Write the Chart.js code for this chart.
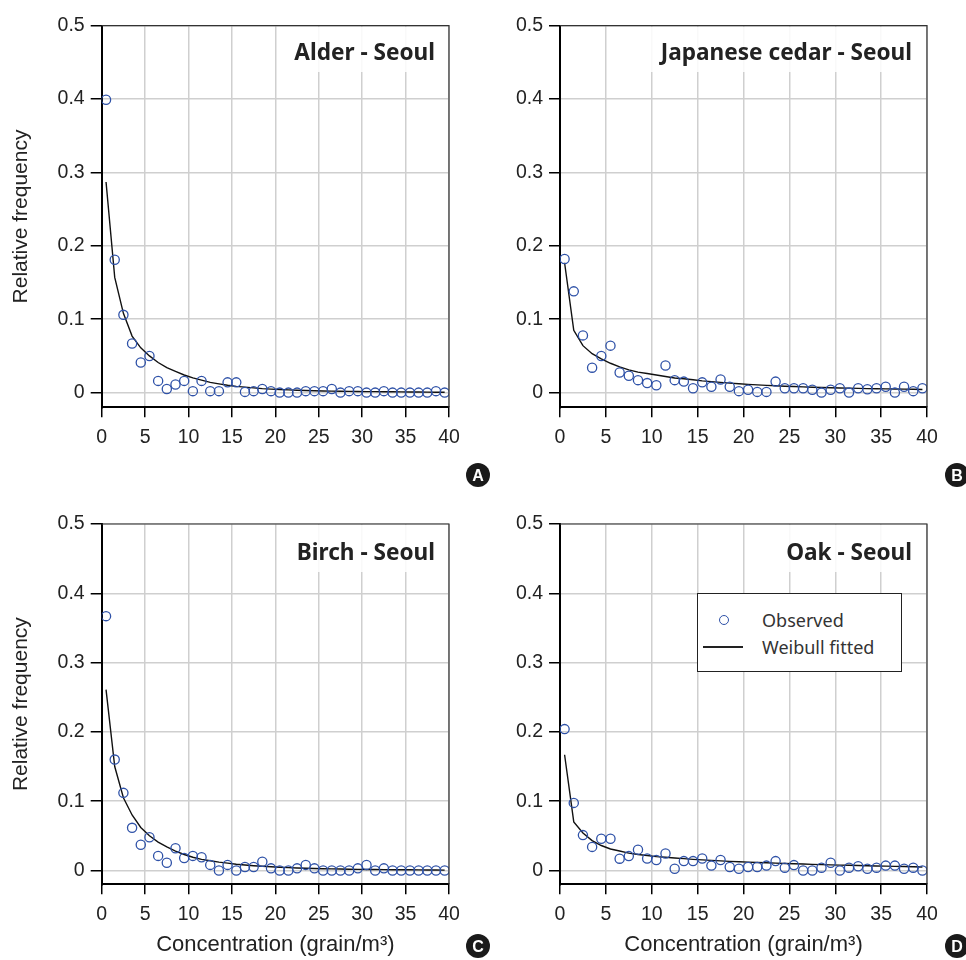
<!DOCTYPE html>
<html>
<head>
<meta charset="utf-8">
<script src="https://cdn.jsdelivr.net/npm/chart.js@4.4.1/dist/chart.umd.min.js"></script>
<style>
body{margin:0;background:#fff;width:966px;height:960px;position:relative;overflow:hidden;font-family:'Liberation Sans',Arial,sans-serif}
canvas{position:absolute}
.ttl{position:absolute;font-family:'Noto Sans',sans-serif;font-weight:700;font-size:22.6px;color:#222;background:rgba(255,255,255,.88);padding:10px 12px 5px;line-height:30px;white-space:nowrap}
.badge{position:absolute;width:24px;height:24px;border-radius:50%;background:#1a1a1a;color:#fff;font:bold 16px 'Liberation Sans',Arial,sans-serif;text-align:center;line-height:25px}
#legend{position:absolute;left:697px;top:593px;width:203px;height:77px;border:1.5px solid #222;background:#fff;font-family:'Noto Sans',sans-serif;font-size:18px;color:#333}
#legend .row{position:absolute;left:0;height:26px;line-height:26px;width:100%}
#legend .lbl{position:absolute;left:64px;top:0}
#legend .dot{position:absolute;left:21px;top:8px;width:8px;height:8px;border:1.4px solid #2f52a8;border-radius:50%}
#legend .ln{position:absolute;left:5px;top:12px;width:40px;height:1.6px;background:#222}
</style>
</head>
<body>
<canvas id="cA" width="483" height="480" style="left:0;top:0"></canvas>
<canvas id="cB" width="483" height="480" style="left:483px;top:0"></canvas>
<canvas id="cC" width="483" height="480" style="left:0;top:480px"></canvas>
<canvas id="cD" width="483" height="480" style="left:483px;top:480px"></canvas>

<div class="ttl" style="right:519px;top:27px">Alder - Seoul</div>
<div class="ttl" style="right:42px;top:27px">Japanese cedar - Seoul</div>
<div class="ttl" style="right:519px;top:525px;padding-top:12px">Birch - Seoul</div>
<div class="ttl" style="right:42px;top:525px;padding-top:12px">Oak - Seoul</div>

<div class="badge" style="left:466px;top:463px">A</div>
<div class="badge" style="left:945px;top:463px">B</div>
<div class="badge" style="left:466px;top:934px">C</div>
<div class="badge" style="left:945px;top:934px">D</div>

<div id="legend"></div>

<script>
// x positions (bin centres) and axis ticks
const concentration=[0.5,1.5,2.5,3.5,4.5,5.5,6.5,7.5,8.5,9.5,10.5,11.5,12.5,13.5,14.5,15.5,16.5,17.5,18.5,19.5,
  20.5,21.5,22.5,23.5,24.5,25.5,26.5,27.5,28.5,29.5,30.5,31.5,32.5,33.5,34.5,35.5,36.5,37.5,38.5,39.5];
const xTicks=[0,5,10,15,20,25,30,35,40];
const yTicks=[0,0.1,0.2,0.3,0.4,0.5];

// A - Alder
const alderObserved=[0.399,0.181,0.106,0.067,0.041,0.050,0.016,0.005,0.011,0.016,0.002,0.016,0.002,0.002,0.014,0.014,0.001,0.002,0.005,0.002,
  0,0,0,0.002,0.002,0.002,0.005,0,0.002,0.002,0,0,0.002,0,0,0,0,0,0.002,0];
const alderFitted=[0.287,0.157,0.108,0.077,0.061,0.050,0.041,0.034,0.029,0.024,0.020,0.017,0.014,0.012,0.010,0.0085,0.0075,0.0065,0.0055,0.0048,
  0.0042,0.0037,0.0033,0.0029,0.0026,0.0023,0.0021,0.0019,0.0017,0.0015,0.0014,0.0013,0.0012,0.0011,0.0010,0.0009,0.0008,0.0007,0.0006,0.0005];

// B - Japanese cedar
const cedarObserved=[0.182,0.138,0.078,0.034,0.050,0.064,0.0275,0.023,0.017,0.013,0.010,0.037,0.017,0.015,0.006,0.014,0.008,0.018,0.008,0.002,
  0.004,0.001,0.001,0.015,0.006,0.006,0.006,0.004,0,0.004,0.006,0,0.006,0.0045,0.006,0.008,0,0.008,0.002,0.006];
const cedarFitted=[0.177,0.085,0.064,0.053,0.046,0.040,0.035,0.031,0.028,0.026,0.024,0.022,0.020,0.019,0.0175,0.016,0.015,0.014,0.013,0.012,
  0.0112,0.0105,0.0099,0.0093,0.0087,0.0083,0.0078,0.0074,0.0070,0.0067,0.0064,0.0061,0.0058,0.0055,0.0053,0.0051,0.0049,0.0047,0.0045,0.0043];

// C - Birch
const birchObserved=[0.367,0.160,0.112,0.0615,0.037,0.048,0.021,0.011,0.032,0.018,0.021,0.019,0.008,0,0.008,0,0.005,0.005,0.0125,0.003,
  0,0,0.003,0.008,0.003,0,0,0,0,0.003,0.008,0,0.003,0,0,0,0,0,0,0];
const birchFitted=[0.261,0.150,0.105,0.080,0.062,0.050,0.041,0.034,0.028,0.023,0.019,0.016,0.014,0.012,0.0105,0.009,0.0078,0.0068,0.006,0.0053,
  0.0047,0.0041,0.0036,0.0032,0.0028,0.0025,0.0022,0.002,0.0018,0.0016,0.0014,0.0013,0.0012,0.0011,0.001,0.0009,0.0008,0.0007,0.0006,0.0005];

// D - Oak
const oakObserved=[0.204,0.0975,0.051,0.034,0.0457,0.0457,0.017,0.0207,0.030,0.0173,0.015,0.0245,0.0024,0.0135,0.0135,0.0173,0.007,0.015,0.005,0.0024,
  0.005,0.005,0.007,0.0135,0.004,0.0077,0,0,0.004,0.011,0,0.004,0.006,0.0024,0.004,0.007,0.007,0.0024,0.004,0];
const oakFitted=[0.167,0.070,0.054,0.043,0.036,0.031,0.028,0.025,0.023,0.0215,0.020,0.019,0.018,0.017,0.016,0.0152,0.0145,0.0138,0.0131,0.0125,
  0.0120,0.0115,0.0110,0.0105,0.0100,0.0096,0.0092,0.0088,0.0084,0.0080,0.0077,0.0074,0.0071,0.0068,0.0065,0.0062,0.0059,0.0056,0.0053,0.0050];

const BLUE='#2f52a8',GRID='#cfcfcf';
const labelObserved='Observed',labelFitted='Weibull fitted';

// chart area box inside each canvas: left, top, right, bottom
const panels=[
  {id:'cA',obs:alderObserved,fit:alderFitted,left:101.7,top:25.7,right:449,bottom:407.3,yTitle:true,xTitle:false},
  {id:'cB',obs:cedarObserved,fit:cedarFitted,left:77,top:25.7,right:444,bottom:407.3,yTitle:false,xTitle:false},
  {id:'cC',obs:birchObserved,fit:birchFitted,left:101.7,top:44,right:449,bottom:404.3,yTitle:true,xTitle:true},
  {id:'cD',obs:oakObserved,fit:oakFitted,left:77,top:44,right:444,bottom:404.3,yTitle:false,xTitle:true}
];

const frame={id:'frame',afterDraw(c){const a=c.chartArea,x=c.ctx;x.save();x.strokeStyle='#333';x.lineWidth=1.2;
  x.beginPath();x.moveTo(a.left,a.top);x.lineTo(a.right,a.top);x.lineTo(a.right,a.bottom);x.stroke();x.restore();}};

function pairs(ys){return concentration.map((x,i)=>({x,y:ys[i]}));}

function build(p){
  const el=document.getElementById(p.id);const W=el.width,H=el.height;
  return new Chart(el,{
    type:'scatter',
    data:{datasets:[
      {label:labelObserved,data:pairs(p.obs),pointStyle:'circle',pointRadius:4.6,borderColor:BLUE,borderWidth:1.3,backgroundColor:'rgba(255,255,255,0)'},
      {label:labelFitted,data:pairs(p.fit),showLine:true,pointRadius:0,borderColor:'#111',borderWidth:1.4,tension:0,fill:false}
    ]},
    options:{
      responsive:false,animation:false,
      layout:{padding:{top:p.top,right:W-p.right,left:0,bottom:0}},
      plugins:{legend:{display:false},tooltip:{enabled:false}},
      scales:{
        x:{type:'linear',min:0,max:40,
          afterBuildTicks:s=>{s.ticks=xTicks.map(v=>({value:v}));},
          afterFit:s=>{s.height=H-p.bottom;},
          grid:{color:GRID,lineWidth:1.5,tickColor:'#000',tickLength:10,tickWidth:1.5},
          border:{color:'#000',width:2},
          ticks:{font:{size:19.5},color:'#222',padding:9,maxRotation:0,autoSkip:false},
          title:{display:p.xTitle,text:'Concentration (grain/m³)',font:{size:22},color:'#222',padding:{top:0,bottom:2}}},
        y:{type:'linear',min:-0.02,max:0.5,
          afterBuildTicks:s=>{s.ticks=yTicks.map(v=>({value:v}));},
          afterFit:s=>{s.width=p.left;},
          grid:{color:GRID,lineWidth:1.5,tickColor:'#000',tickLength:11,tickWidth:1.5},
          border:{color:'#000',width:2},
          ticks:{font:{size:19.5},color:'#222',padding:6,callback:v=>v===0?'0':v.toFixed(1)},
          title:{display:p.yTitle,text:'Relative frequency',font:{size:21},color:'#222',padding:{top:9,bottom:0}}}
      }
    },
    plugins:[frame]
  });
}

const charts=panels.map(build);

// legend box in panel D, built from that chart's datasets
const lg=document.getElementById('legend');
charts[3].data.datasets.forEach((ds,i)=>{
  const row=document.createElement('div');row.className='row';row.style.top=(13+i*27)+'px';
  row.innerHTML=(ds.showLine?'<span class="ln"></span>':'<span class="dot"></span>')+'<span class="lbl">'+ds.label+'</span>';
  lg.appendChild(row);
});
</script>
</body>
</html>
